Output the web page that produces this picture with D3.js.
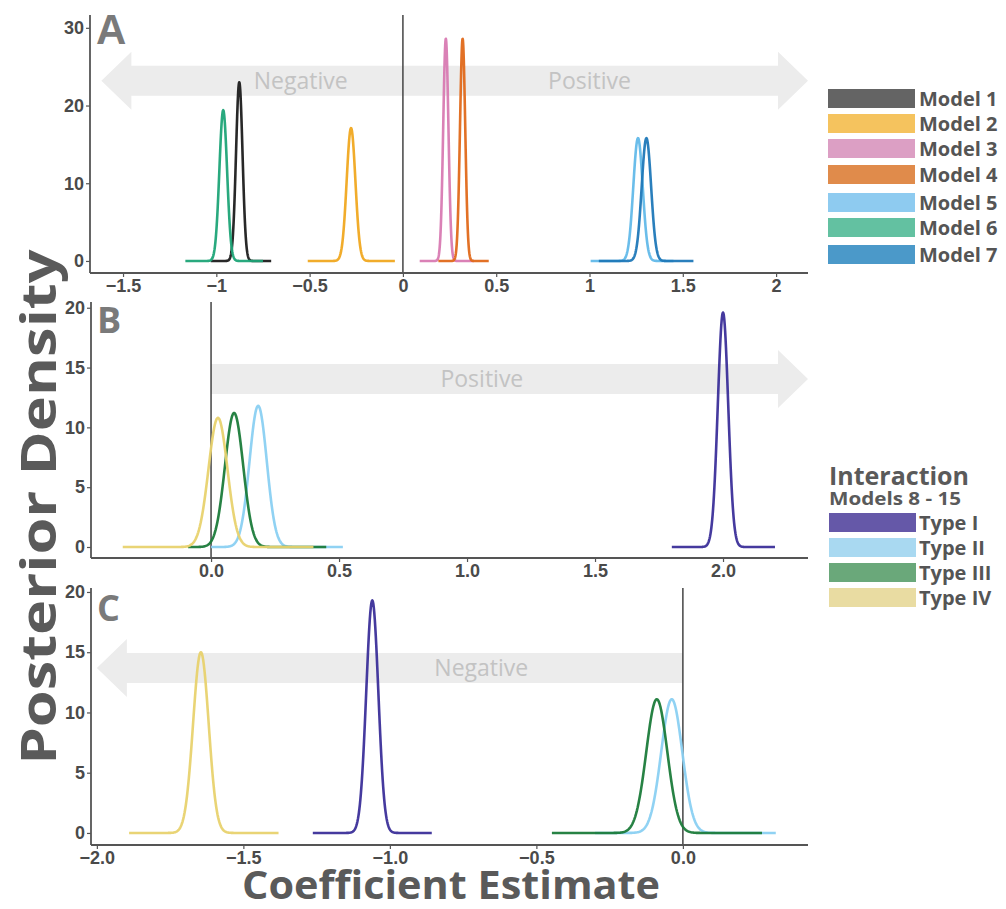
<!DOCTYPE html>
<html>
<head>
<meta charset="utf-8">
<script src="https://cdn.jsdelivr.net/npm/d3@7"></script>
<style>
  body { margin: 0; background: #fff; }
  svg { display: block; }
</style>
</head>
<body>
<svg id="chart" width="1006" height="909"></svg>
<script>
// ---- data ----
// posterior curves: mean, peak density, and where the drawn line starts / stops
const modelNames = ["Model 1", "Model 2", "Model 3", "Model 4", "Model 5", "Model 6", "Model 7"];
const modelMeans = [-0.877, -0.278, 0.23, 0.32, 1.26, -0.963, 1.305];
const modelPeaks = [23.0, 17.1, 28.6, 28.6, 15.8, 19.4, 15.8];
const modelFrom  = [-1.03, -0.51, 0.09, 0.19, 1.006, -1.166, 1.05];
const modelTo    = [-0.706, -0.043, 0.38, 0.46, 1.45, -0.75, 1.557];

const typeNames = ["Type I", "Type II", "Type III", "Type IV"];
// panel B (positive interactions)
const typeMeansB = [2.0, 0.184, 0.09, 0.027];
const typePeaksB = [19.6, 11.8, 11.2, 10.8];
const typeFromB  = [1.80, 0.0, -0.09, -0.345];
const typeToB    = [2.203, 0.515, 0.45, 0.40];
// panel C (negative interactions)
const typeMeansC = [-1.06, -0.038, -0.089, -1.645];
const typePeaksC = [19.3, 11.1, 11.1, 15.0];
const typeFromC  = [-1.263, -0.30, -0.447, -1.89];
const typeToC    = [-0.857, 0.317, 0.27, -1.38];

const ticksA = [-1.5, -1, -0.5, 0, 0.5, 1, 1.5, 2];
const tickLabelsA = ["\u22121.5", "\u22121", "\u22120.5", "0", "0.5", "1", "1.5", "2"];
const ticksB = [0, 0.5, 1, 1.5, 2];
const tickLabelsB = ["0.0", "0.5", "1.0", "1.5", "2.0"];
const ticksC = [-2, -1.5, -1, -0.5, 0];
const tickLabelsC = ["\u22122.0", "\u22121.5", "\u22121.0", "\u22120.5", "0.0"];
const yTicksA = [0, 10, 20, 30];
const yTicksBC = [0, 5, 10, 15, 20];

// colours
const modelLine = ["#1c1c1c", "#f0a820", "#d87ab2", "#e0691a", "#62b9e9", "#1ea477", "#1f78b8"];
const modelFill = ["#646464", "#f5c35e", "#dc9fc4", "#e08b4b", "#8ecbf0", "#63c1a1", "#4b99c9"];
const typeLine = ["#3b2f99", "#8ad0f2", "#1b7b3a", "#e8d26e"];
const typeFill = ["#6558a8", "#a9d9f1", "#6aa87a", "#e9dca2"];

const svg = d3.select("#chart");
const axisCol = "#555";

// normal-shaped posterior curve from mean / peak height
function curve(mean, peak, from, to) {
  const sd = 1 / (peak * Math.sqrt(2 * Math.PI));
  return d3.range(0, 241).map(i => {
    const x = from + (to - from) * i / 240;
    return [x, peak * Math.exp(-0.5 * ((x - mean) / sd) ** 2)];
  });
}

function panel(cfg) {
  const x = d3.scaleLinear().domain(cfg.xd).range([cfg.left, cfg.right]);
  const y = d3.scaleLinear().domain(cfg.yd).range([cfg.bottom, cfg.top]);
  const g = svg.append("g");

  // grey arrow band
  const a = cfg.arrow;
  const yc = y(a.y), hb = 15, hh = 29, al = 30;
  const x0 = x(a.x0), x1 = x(a.x1);
  let pts = [];
  if (a.left && a.right) {
    pts = [[x0, yc], [x0 + al, yc - hh], [x0 + al, yc - hb], [x1 - al, yc - hb], [x1 - al, yc - hh],
           [x1, yc], [x1 - al, yc + hh], [x1 - al, yc + hb], [x0 + al, yc + hb], [x0 + al, yc + hh]];
  } else if (a.right) {
    pts = [[x0, yc - hb], [x1 - al, yc - hb], [x1 - al, yc - hh], [x1, yc], [x1 - al, yc + hh],
           [x1 - al, yc + hb], [x0, yc + hb]];
  } else {
    pts = [[x0, yc], [x0 + al, yc - hh], [x0 + al, yc - hb], [x1, yc - hb], [x1, yc + hb],
           [x0 + al, yc + hb], [x0 + al, yc + hh]];
  }
  g.append("polygon").attr("points", pts.map(p => p.join(",")).join(" ")).attr("fill", "#ececec");
  a.labels.forEach(l => {
    g.append("text").attr("x", x(l.x)).attr("y", yc).attr("dy", "0.35em")
      .attr("text-anchor", "middle").attr("font-family", "Open Sans").attr("font-size", 23)
      .attr("fill", "#c3c3c3").text(l.text);
  });

  // zero line
  g.append("line").attr("x1", x(0)).attr("x2", x(0)).attr("y1", cfg.top).attr("y2", cfg.bottom)
    .attr("stroke", "#444").attr("stroke-width", 1.5);

  // curves
  const line = d3.line().x(d => x(d[0])).y(d => y(d[1]));
  cfg.series.forEach(s => {
    g.append("path").datum(curve(s.mean, s.peak, s.from, s.to))
      .attr("d", line).attr("fill", "none").attr("stroke", s.color)
      .attr("stroke-width", 2.6).attr("stroke-linejoin", "round").attr("opacity", 0.95);
  });

  // axes
  const xa = d3.axisBottom(x).tickValues(cfg.xt).tickFormat((d, i) => cfg.xl[i]).tickSize(4).tickPadding(2);
  const gx = g.append("g").attr("transform", `translate(0,${cfg.bottom})`).call(xa);
  const ya = d3.axisLeft(y).tickValues(cfg.yt).tickSize(4).tickPadding(2);
  const gy = g.append("g").attr("transform", `translate(${cfg.left},0)`).call(ya);
  [gx, gy].forEach(ax => {
    ax.select(".domain").attr("stroke", axisCol).attr("stroke-width", 1.8);
    ax.selectAll(".tick line").attr("stroke", axisCol).attr("stroke-width", 1.2);
    ax.selectAll(".tick text").attr("font-family", "Liberation Sans").attr("font-weight", "bold")
      .attr("font-size", 18).attr("fill", "#4a4a4a");
  });
  gx.select(".domain").attr("d", `M${cfg.left},0H${cfg.right}`);
  gy.select(".domain").attr("d", `M0,${cfg.top}V${cfg.bottom}`);

  // panel letter
  g.append("text").attr("x", cfg.left + 6).attr("y", cfg.letterY)
    .attr("font-family", cfg.letterFont).attr("font-weight", "bold").attr("font-size", cfg.letterSize)
    .attr("fill", "#7a7a7a").text(cfg.letter);
}

const zipSeries = (means, peaks, from, to, cols) =>
  means.map((m, i) => ({ mean: m, peak: peaks[i], from: from[i], to: to[i], color: cols[i] }));

// Panel A
panel({
  left: 90, right: 808, top: 15, bottom: 273,
  xd: [-1.677, 2.171], yd: [-1.55, 31.65],
  xt: ticksA, xl: tickLabelsA, yt: yTicksA,
  letter: "A", letterY: 44, letterFont: "Liberation Sans", letterSize: 42,
  arrow: { x0: -1.616, x1: 2.171, y: 23.2, left: true, right: true,
           labels: [{ x: -0.548, text: "Negative" }, { x: 1.0, text: "Positive" }] },
  series: zipSeries(modelMeans, modelPeaks, modelFrom, modelTo, modelLine)
});

// Panel B
panel({
  left: 91, right: 808, top: 302, bottom: 558,
  xd: [-0.469, 2.332], yd: [-0.92, 20.48],
  xt: ticksB, xl: tickLabelsB, yt: yTicksBC,
  letter: "B", letterY: 333, letterFont: "Open Sans", letterSize: 36,
  arrow: { x0: 0, x1: 2.332, y: 14.05, left: false, right: true,
           labels: [{ x: 1.058, text: "Positive" }] },
  series: zipSeries(typeMeansB, typePeaksB, typeFromB, typeToB, typeLine)
});

// Panel C
panel({
  left: 91, right: 808, top: 588, bottom: 845,
  xd: [-2.02, 0.427], yd: [-1.0, 20.33],
  xt: ticksC, xl: tickLabelsC, yt: yTicksBC,
  letter: "C", letterY: 621, letterFont: "Open Sans", letterSize: 36,
  arrow: { x0: -2.0, x1: 0, y: 13.7, left: true, right: false,
           labels: [{ x: -0.688, text: "Negative" }] },
  series: zipSeries(typeMeansC, typePeaksC, typeFromC, typeToC, typeLine)
});

// axis titles
svg.append("text").attr("transform", "translate(56,507) rotate(-90)")
  .attr("text-anchor", "middle").attr("font-family", "Open Sans").attr("font-weight", "bold")
  .attr("font-size", 48).attr("fill", "#5a5a5a")
  .attr("textLength", 515).attr("lengthAdjust", "spacingAndGlyphs").text("Posterior Density");
svg.append("text").attr("x", 451).attr("y", 899)
  .attr("text-anchor", "middle").attr("font-family", "Open Sans").attr("font-weight", "bold")
  .attr("font-size", 40).attr("fill", "#5a5a5a")
  .attr("textLength", 418).attr("lengthAdjust", "spacingAndGlyphs").text("Coefficient Estimate");

// legend: models
const legA = svg.append("g");
const legAy = [89, 114, 139, 165, 193, 218, 245];
modelNames.forEach((n, i) => {
  legA.append("rect").attr("x", 828).attr("y", legAy[i]).attr("width", 87).attr("height", 19)
    .attr("fill", modelFill[i]);
  legA.append("text").attr("x", 919).attr("y", legAy[i] + 9.5).attr("dy", "0.36em")
    .attr("font-family", "Open Sans").attr("font-weight", "bold").attr("font-size", 20)
    .attr("fill", "#555").text(n);
});

// legend: interaction types
const legB = svg.append("g");
legB.append("text").attr("x", 829).attr("y", 485).attr("font-family", "Open Sans")
  .attr("font-weight", "bold").attr("font-size", 25).attr("fill", "#5a5a5a").text("Interaction");
legB.append("text").attr("x", 829).attr("y", 505).attr("font-family", "Open Sans")
  .attr("font-weight", "bold").attr("font-size", 18).attr("fill", "#5a5a5a")
  .attr("textLength", 132).attr("lengthAdjust", "spacingAndGlyphs").text("Models 8 - 15");
typeNames.forEach((n, i) => {
  const yy = 513 + i * 25;
  legB.append("rect").attr("x", 829).attr("y", yy).attr("width", 87).attr("height", 19)
    .attr("fill", typeFill[i]);
  legB.append("text").attr("x", 919).attr("y", yy + 9.5).attr("dy", "0.36em")
    .attr("font-family", "Open Sans").attr("font-weight", "bold").attr("font-size", 20)
    .attr("fill", "#555").text(n);
});
</script>
</body>
</html>
